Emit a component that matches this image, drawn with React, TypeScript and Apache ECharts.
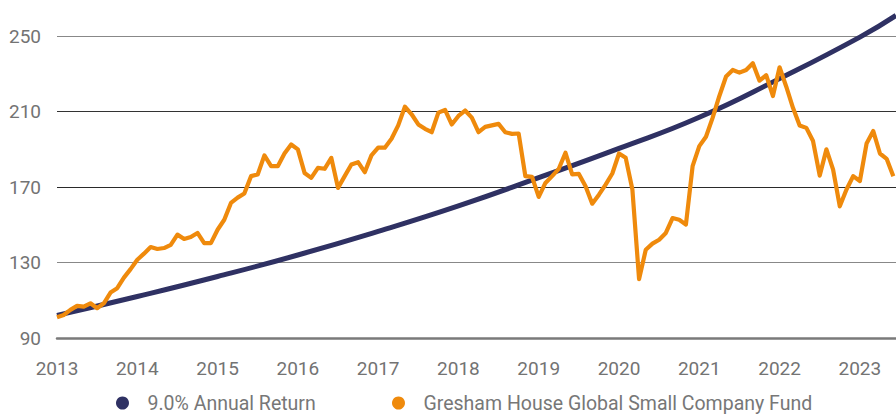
import React, { useEffect, useRef } from "react";
import * as echarts from "echarts";

const startYear = 2013;
const fundName = "Gresham House Global Small Company Fund";
const benchName = "9.0% Annual Return";

// Monthly values of the fund, Jan 2013 onwards
const fundValues: number[] = [
  101, 102.2, 104.9, 107, 106.6, 108.4, 105.8, 108.4, 114.1, 116.4, 122, 126.5,
  131.5, 134.7, 138.2, 137.2, 137.7, 139.4, 144.8, 142.5, 143.5, 145.7, 140.3, 140.3,
  147.4, 152.7, 161.6, 164.4, 166.6, 175.8, 176.7, 186.8, 181.1, 181.1, 187.8, 192.6,
  190, 177.5, 174.9, 180.2, 179.7, 185.5, 169.6, 175.8, 182, 183.2, 177.9, 186.8,
  190.9, 190.9, 195.6, 202.7, 212.6, 208.6, 203.2, 200.9, 199.1, 209.5, 210.9, 203.2,
  207.7, 210.6, 206.8, 199.1, 201.9, 202.7, 203.5, 199.1, 198.2, 198.4, 175.8, 175.4,
  164.8, 172.2, 175.8, 179.7, 188.2, 176.7, 177, 170.5, 161.2, 166, 171.3, 177.2,
  187.8, 185.5, 168.7, 121.2, 136.8, 140, 142.1, 145.7, 153.6, 152.7, 150.1, 181.1,
  191.7, 196.7, 206.8, 218.3, 228.6, 232.1, 230.7, 232.1, 235.7, 226.4, 229.3, 218.3,
  233.5, 223.2, 212, 202.7, 201.4, 194.4, 176.1, 190, 179.3, 159.8, 168.7, 175.8,
  173.2, 193.1, 199.7, 187.8, 185, 175.8,
];

// 9% annual return curve, read at these dates
const benchDates: number[] = [2013, 2014, 2015, 2016, 2017, 2018, 2019, 2020, 2021, 2022, 2023, 2023.45];
const benchValues: number[] = [102, 112, 122.6, 134, 146.5, 160, 175, 190.5, 207, 227.5, 249.5, 261];

const yTicks: number[] = [90, 130, 170, 210, 250];

const NAVY = "#2f3163";
const ORANGE = "#ef8a0c";
const FONT = "Roboto";

export default function App() {
  const ref = useRef<HTMLDivElement>(null);
  useEffect(() => {
    if (!ref.current) return;
    const chart = echarts.init(ref.current, null, { renderer: "svg" });
    const fundData = fundValues.map((v, i) => [startYear + i / 12, v]);
    const benchData = benchDates.map((d, i) => [d, benchValues[i]]);
    const legendText = { color: "#777777", fontFamily: FONT, fontSize: 19.5, lineHeight: 22 };
    chart.setOption({
      animation: false,
      backgroundColor: "#ffffff",
      grid: { left: 57, right: 0, top: 6, bottom: 76, containLabel: false },
      xAxis: {
        type: "value",
        min: 2013,
        max: 2023.45,
        interval: 1,
        axisLine: { show: true, lineStyle: { color: "#7a7a7a", width: 2.5 } },
        axisTick: { show: false },
        splitLine: { show: false },
        axisLabel: {
          margin: 21,
          color: "#737373",
          fontFamily: FONT,
          fontSize: 19,
          showMaxLabel: false,
          formatter: (v: number) => (Number.isInteger(Math.round(v * 1000) / 1000) ? String(Math.round(v)) : ""),
        },
      },
      yAxis: {
        type: "value",
        min: 90,
        max: 266,
        interval: 40,
        axisLine: { show: false },
        axisTick: { show: false },
        splitLine: {
          show: true,
          lineStyle: {
            color: ["#7a7a7a", "#888888", "#2a2a2a", "#333333", "#888888", "rgba(0,0,0,0)"],
            width: 1,
          },
        },
        axisLabel: {
          margin: 16,
          color: "#737373",
          fontFamily: FONT,
          fontSize: 19,
          showMaxLabel: false,
          formatter: (v: number) => (yTicks.includes(v) ? String(v) : ""),
        },
      },
      legend: [
        {
          data: [{ name: benchName, icon: "circle" }],
          left: 116,
          top: 392,
          padding: 0,
          itemWidth: 40,
          itemHeight: 13,
          textStyle: legendText,
        },
        {
          data: [{ name: fundName, icon: "circle" }],
          left: 392,
          top: 392,
          padding: 0,
          itemWidth: 40,
          itemHeight: 13,
          textStyle: legendText,
        },
      ],
      series: [
        {
          name: benchName,
          type: "line",
          data: benchData,
          smooth: true,
          showSymbol: false,
          symbol: "circle",
          color: NAVY,
          lineStyle: { color: NAVY, width: 5 },
        },
        {
          name: fundName,
          type: "line",
          data: fundData,
          showSymbol: false,
          symbol: "circle",
          color: ORANGE,
          lineStyle: { color: ORANGE, width: 4.2, join: "round" },
        },
      ],
    });
    return () => chart.dispose();
  }, []);
  return <div ref={ref} style={{ width: 896, height: 414, position: "absolute", left: 0, top: 0 }} />;
}
